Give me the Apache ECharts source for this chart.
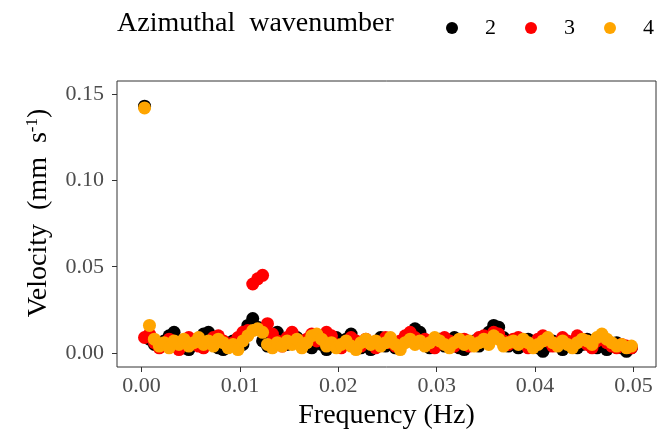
<!DOCTYPE html>
<html>
<head>
<meta charset="utf-8">
<script src="https://cdn.jsdelivr.net/npm/echarts@6/dist/echarts.min.js"></script>
<style>
  html, body { margin: 0; padding: 0; background: #fff; }
  #chart { width: 672px; height: 436px; }
</style>
</head>
<body>
<div id="chart"></div>
<script>
// Frequency bins (Hz)
const freq = [
  0.0003, 0.0008, 0.0013, 0.0018, 0.0023, 0.0028, 0.0033, 0.0038, 0.0043, 0.0048,
  0.0053, 0.0058, 0.0063, 0.0068, 0.0073, 0.0078, 0.0083, 0.0088, 0.0093, 0.0098,
  0.0103, 0.0108, 0.0113, 0.0118, 0.0123, 0.0128, 0.0133, 0.0138, 0.0143, 0.0148,
  0.0153, 0.0158, 0.0163, 0.0168, 0.0173, 0.0178, 0.0183, 0.0188, 0.0193, 0.0198,
  0.0203, 0.0208, 0.0213, 0.0218, 0.0223, 0.0228, 0.0233, 0.0238, 0.0243, 0.0248,
  0.0253, 0.0258, 0.0263, 0.0268, 0.0273, 0.0278, 0.0283, 0.0288, 0.0293, 0.0298,
  0.0303, 0.0308, 0.0313, 0.0318, 0.0323, 0.0328, 0.0333, 0.0338, 0.0343, 0.0348,
  0.0353, 0.0358, 0.0363, 0.0368, 0.0373, 0.0378, 0.0383, 0.0388, 0.0393, 0.0398,
  0.0403, 0.0408, 0.0413, 0.0418, 0.0423, 0.0428, 0.0433, 0.0438, 0.0443, 0.0448,
  0.0453, 0.0458, 0.0463, 0.0468, 0.0473, 0.0478, 0.0483, 0.0488, 0.0493, 0.0498
];

// Velocity amplitude (mm/s) for azimuthal wavenumber 2
const velM2 = [
  0.143, 0.008, 0.005, 0.004, 0.007, 0.010, 0.012, 0.006, 0.003, 0.002,
  0.005, 0.008, 0.011, 0.012, 0.006, 0.003, 0.002, 0.004, 0.007, 0.003,
  0.005, 0.016, 0.020, 0.015, 0.007, 0.004, 0.009, 0.012, 0.008, 0.005,
  0.011, 0.009, 0.004, 0.006, 0.003, 0.008, 0.005, 0.002, 0.007, 0.009,
  0.004, 0.008, 0.011, 0.006, 0.003, 0.005, 0.002, 0.006, 0.009, 0.004,
  0.007, 0.003, 0.005, 0.008, 0.011, 0.014, 0.012, 0.006, 0.003, 0.005,
  0.008, 0.004, 0.006, 0.009, 0.003, 0.002, 0.005, 0.007, 0.004, 0.008,
  0.012, 0.016, 0.015, 0.009, 0.004, 0.006, 0.003, 0.005, 0.008, 0.006,
  0.003, 0.001, 0.004, 0.007, 0.005, 0.002, 0.004, 0.006, 0.003, 0.005,
  0.008, 0.006, 0.003, 0.005, 0.002, 0.004, 0.006, 0.003, 0.001, 0.003
];

// Velocity amplitude (mm/s) for azimuthal wavenumber 3
const velM3 = [
  0.009, 0.011, 0.006, 0.003, 0.005, 0.008, 0.004, 0.002, 0.006, 0.009,
  0.007, 0.004, 0.003, 0.006, 0.009, 0.010, 0.007, 0.004, 0.006, 0.009,
  0.012, 0.013, 0.040, 0.043, 0.045, 0.017, 0.011, 0.007, 0.004, 0.009,
  0.012, 0.006, 0.004, 0.008, 0.011, 0.007, 0.009, 0.012, 0.010, 0.005,
  0.003, 0.006, 0.009, 0.007, 0.004, 0.008, 0.006, 0.003, 0.005, 0.009,
  0.006, 0.004, 0.007, 0.010, 0.012, 0.009, 0.006, 0.008, 0.005, 0.003,
  0.006, 0.009, 0.007, 0.004, 0.006, 0.008, 0.004, 0.006, 0.009, 0.010,
  0.008, 0.012, 0.011, 0.007, 0.005, 0.008, 0.009, 0.006, 0.003, 0.005,
  0.008, 0.010, 0.007, 0.004, 0.006, 0.009, 0.007, 0.004, 0.010, 0.008,
  0.005, 0.003, 0.007, 0.009, 0.006, 0.004, 0.003, 0.005, 0.004, 0.003
];

// Velocity amplitude (mm/s) for azimuthal wavenumber 4
const velM4 = [
  0.142, 0.016, 0.008, 0.004, 0.006, 0.003, 0.007, 0.005, 0.008, 0.004,
  0.006, 0.009, 0.005, 0.007, 0.004, 0.008, 0.006, 0.003, 0.005, 0.002,
  0.007, 0.010, 0.013, 0.014, 0.012, 0.005, 0.003, 0.006, 0.004, 0.007,
  0.005, 0.008, 0.003, 0.006, 0.010, 0.011, 0.008, 0.004, 0.006, 0.003,
  0.005, 0.007, 0.004, 0.002, 0.006, 0.008, 0.005, 0.007, 0.004, 0.006,
  0.009, 0.005, 0.002, 0.006, 0.008, 0.005, 0.007, 0.004, 0.006, 0.009,
  0.007, 0.005, 0.003, 0.006, 0.008, 0.005, 0.007, 0.004, 0.006, 0.008,
  0.005, 0.010, 0.008, 0.004, 0.006, 0.007, 0.005, 0.008, 0.006, 0.003,
  0.005, 0.007, 0.009, 0.006, 0.004, 0.007, 0.005, 0.003, 0.006, 0.008,
  0.007, 0.005, 0.009, 0.011, 0.008, 0.006, 0.004, 0.005, 0.003, 0.004
];

const seriesNames = ['2', '3', '4'];
const seriesColors = ['#000000', '#FF0000', '#FFA500'];
const seriesValues = [velM2, velM3, velM4];

const xTicks = [0, 0.01, 0.02, 0.03, 0.04, 0.05];
const yTicks = [0, 0.05, 0.10, 0.15];

const FONT = '"Liberation Serif", "DejaVu Serif", serif';
const SP = '\u2002';

const chart = echarts.init(document.getElementById('chart'), null, { renderer: 'canvas' });

chart.setOption({
  animation: false,
  backgroundColor: '#ffffff',
  title: {
    text: 'Azimuthal' + SP + 'wavenumber',
    left: 112,
    top: 5,
    textStyle: { fontFamily: FONT, fontSize: 28, fontWeight: 'normal', color: '#000' }
  },
  legend: {
    data: seriesNames,
    left: 441,
    top: 12,
    icon: 'circle',
    itemWidth: 12,
    itemHeight: 12,
    itemGap: 29,
    textStyle: { fontFamily: FONT, fontSize: 22, color: '#000', padding: [0, 0, 0, 22] }
  },
  grid: {
    left: 117,
    right: 16,
    top: 81,
    bottom: 69,
    show: true,
    borderColor: '#333333',
    borderWidth: 1,
    backgroundColor: '#ffffff'
  },
  xAxis: {
    type: 'value',
    min: -0.0025,
    max: 0.0523,
    name: 'Frequency (Hz)',
    nameLocation: 'middle',
    nameGap: 33,
    nameTextStyle: { fontFamily: FONT, fontSize: 28, color: '#000' },
    axisLine: { show: false, onZero: false },
    splitLine: { show: false },
    axisTick: { show: true, length: 5, lineStyle: { color: '#333333' }, customValues: xTicks },
    axisLabel: {
      customValues: xTicks,
      formatter: v => v.toFixed(2),
      fontFamily: FONT, fontSize: 22, color: '#4D4D4D', margin: 8
    }
  },
  yAxis: {
    type: 'value',
    min: -0.0081,
    max: 0.1576,
    name: 'Velocity' + SP + '(mm' + SP + 's{sup|-1})',
    nameLocation: 'middle',
    nameGap: 64,
    nameTextStyle: {
      fontFamily: FONT, fontSize: 28, color: '#000',
      padding: [0, 0, 0, 22],
      rich: { sup: { fontFamily: FONT, fontSize: 17, color: '#000', verticalAlign: 'top', padding: [0, 0, 12, 0] } }
    },
    axisLine: { show: false, onZero: false },
    splitLine: { show: false },
    axisTick: { show: true, length: 5, lineStyle: { color: '#333333' }, customValues: yTicks },
    axisLabel: {
      customValues: yTicks,
      formatter: v => v.toFixed(2),
      fontFamily: FONT, fontSize: 22, color: '#4D4D4D', margin: 13
    }
  },
  series: seriesNames.map((name, k) => ({
    name: name,
    type: 'scatter',
    symbol: 'circle',
    symbolSize: 13,
    itemStyle: { color: seriesColors[k], opacity: 1 },
    emphasis: { disabled: true },
    data: freq.map((f, i) => [f, seriesValues[k][i]])
  }))
});
</script>
</body>
</html>
